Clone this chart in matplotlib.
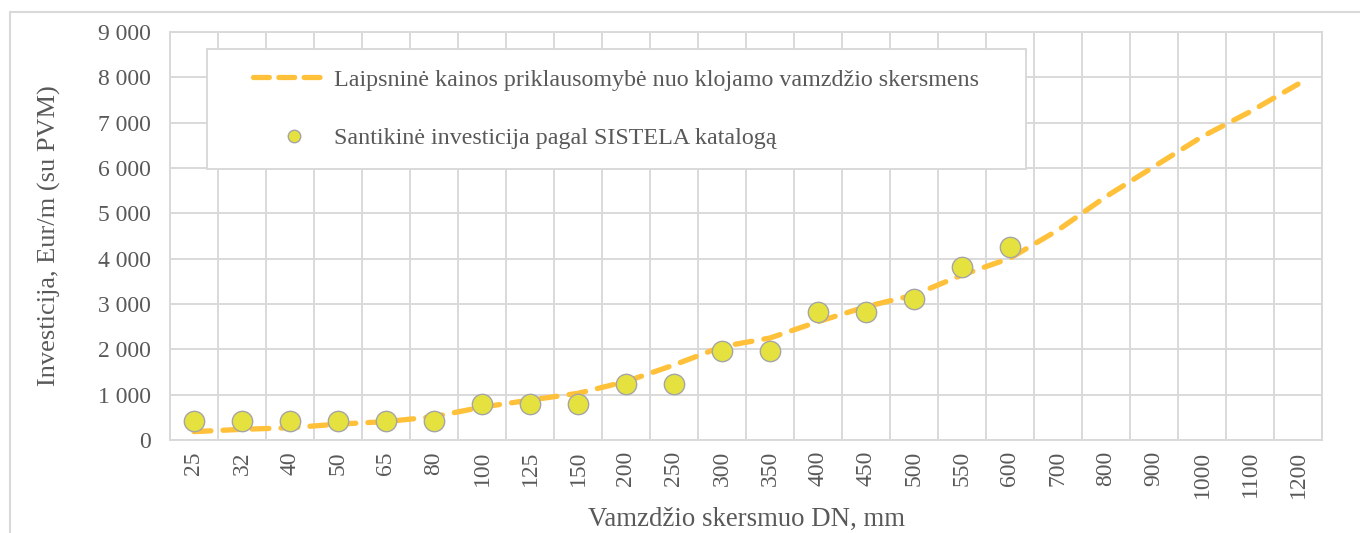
import matplotlib
matplotlib.use('Agg')
import matplotlib.pyplot as plt
from matplotlib.patches import Rectangle
from matplotlib.lines import Line2D
from matplotlib.legend_handler import HandlerLine2D
import numpy as np


diameters = ['25', '32', '40', '50', '65', '80', '100', '125', '150', '200',
             '250', '300', '350', '400', '450', '500', '550', '600', '700',
             '800', '900', '1000', '1100', '1200']
trend = [185, 235, 270, 350, 405, 515, 725, 880, 1030, 1290, 1655, 2060,
         2250, 2610, 2940, 3200, 3640, 4010, 4630, 5370, 6030, 6690, 7240,
         7850]
catalog = [430, 430, 430, 430, 430, 430, 800, 800, 800, 1240, 1240, 1960,
           1960, 2820, 2820, 3100, 3810, 4250]

label_line = 'Laipsninė kainos priklausomybė nuo klojamo vamzdžio skersmens'
label_dots = 'Santikinė investicija pagal SISTELA katalogą'

grid_c = '#D9D9D9'
text_c = '#595959'
line_c = '#FFC03A'
dot_c = '#E5E23F'


# legend handle drawn only on the right part of the handle box
class ShiftedHandler(HandlerLine2D):
    def __init__(self, shift, **kw):
        super().__init__(**kw)
        self.shift = shift

    def create_artists(self, legend, orig_handle, xdescent, ydescent,
                       width, height, fontsize, trans):
        return super().create_artists(legend, orig_handle,
                                      xdescent - self.shift, ydescent,
                                      width - self.shift, height,
                                      fontsize, trans)


plt.rcParams['font.family'] = ['Liberation Serif', 'DejaVu Serif']

fig = plt.figure(figsize=(13.6, 5.33), dpi=100)
fig.patches.append(Rectangle((10 / 1360, -0.2), 1.2, (533 - 12) / 533 + 0.2,
                             transform=fig.transFigure, fill=False,
                             edgecolor=grid_c, linewidth=1.5))
ax = fig.add_axes([170 / 1360, 93 / 533, 1152 / 1360, 408 / 533])

x = np.arange(len(diameters))
ax.plot(x, trend, color=line_c, linewidth=3.8, dashes=(3.2, 2.3),
        dash_capstyle='round', zorder=3)
ax.scatter(x[:len(catalog)], catalog, s=215, color=dot_c,
           edgecolor='#A5A5A5', linewidth=1.0, zorder=4)

ax.set_xlim(-0.5, len(diameters) - 0.5)
ax.set_ylim(0, 9000)
ax.set_xticks(x)
ax.set_xticklabels(diameters, rotation=90)
ax.set_xticks(np.arange(-0.5, len(diameters), 1.0), minor=True)
ax.set_yticks(np.arange(0, 9001, 1000))
ax.set_yticklabels(['{:,}'.format(v).replace(',', ' ') for v in range(0, 9001, 1000)])
ax.grid(axis='y', which='major', color=grid_c, linewidth=1.4)
ax.grid(axis='x', which='minor', color=grid_c, linewidth=1.4)
ax.set_axisbelow(True)
ax.tick_params(which='both', length=0, labelsize=17, colors=text_c)
ax.tick_params(axis='x', pad=8)
ax.tick_params(axis='y', pad=14)
for sp in ax.spines.values():
    sp.set_color(grid_c)
    sp.set_linewidth(1.4)

ax.set_ylabel('Investicija, Eur/m (su PVM)', fontsize=19, color=text_c,
              labelpad=26)
ax.set_xlabel('Vamzdžio skersmuo DN, mm', fontsize=19.3, color=text_c,
              labelpad=6)

h_line = Line2D([], [], color=line_c, linewidth=3.8, dashes=(3.0, 1.8),
                dash_capstyle='round')
h_dots = Line2D([], [], linestyle='none', marker='o', markersize=9,
                markerfacecolor=dot_c, markeredgecolor='#A5A5A5',
                markeredgewidth=1.0)
leg = ax.legend([h_line, h_dots], [label_line, label_dots],
                handler_map={h_line: ShiftedHandler(19),
                             h_dots: ShiftedHandler(27)},
                loc='upper left', bbox_to_anchor=(0.032, 0.958, 0.711, 0.0),
                mode='expand', fancybox=False, framealpha=1, fontsize=17.3,
                handlelength=4.05, handletextpad=0.42, labelspacing=1.53,
                borderpad=0.82, borderaxespad=0)
leg.get_frame().set_edgecolor(grid_c)
leg.get_frame().set_linewidth(1.4)
for t in leg.get_texts():
    t.set_color(text_c)

plt.savefig('out.png')
plt.close()
